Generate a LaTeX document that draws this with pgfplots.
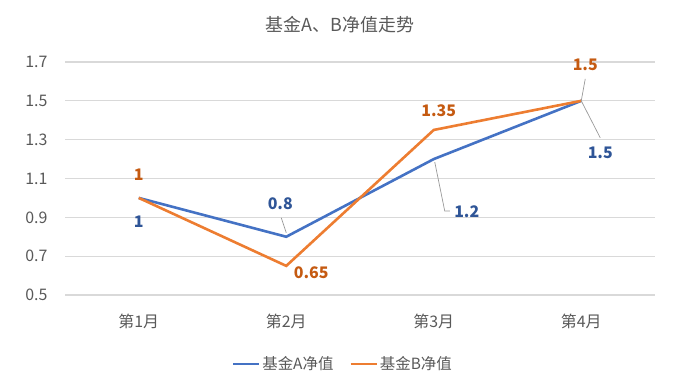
\documentclass[border=0pt]{standalone}
\usepackage{fontspec}
\setmainfont{Noto Sans CJK SC}
\usepackage{pgfplots}
\pgfplotsset{compat=1.18}
\definecolor{lineA}{HTML}{4472C4}
\definecolor{lineB}{HTML}{ED7D31}
\definecolor{labA}{HTML}{2F5597}
\definecolor{labB}{HTML}{C55A11}
\definecolor{txt}{HTML}{595959}
\definecolor{gridc}{HTML}{D9D9D9}
\begin{document}
\begin{tikzpicture}[x=1bp,y=1bp]
\path[use as bounding box] (0,0) rectangle (687,381);
\begin{axis}[
  at={(65bp,86bp)}, anchor=south west,
  scale only axis, width=590bp, height=233bp,
  xmin=-0.5, xmax=3.5, ymin=0.5, ymax=1.7,
  xtick={0,1,2,3}, xticklabels={第1月,第2月,第3月,第4月},
  ytick={0.5,0.7,0.9,1.1,1.3,1.5,1.7},
  yticklabel style={/pgf/number format/fixed,/pgf/number format/precision=1},
  /pgf/number format/assume math mode=true,
  axis line style={draw=none},
  major tick length=0pt,
  xmajorgrids=false, ymajorgrids=true, grid style={draw=gridc, line width=1.2bp},
  ticklabel style={font=\fontsize{16}{18}\selectfont, text=txt},
  xticklabel style={yshift=-16bp},
  yticklabel style={xshift=-14bp},
  title={基金A、B净值走势}, title style={font=\fontsize{18}{20}\selectfont, text=txt, at={(0.466,1)}, yshift=20bp},
  legend columns=2,
  legend style={at={(0.471,-0.295)}, anchor=center, draw=none, fill=none, font=\fontsize{15.5}{17}\selectfont, text=txt, /tikz/every even column/.append style={column sep=14bp}},
  legend image code/.code={\draw[#1, line width=2.4bp] (0bp,0bp) -- (26bp,0bp);},
  clip=false,
]
\addplot[lineA, line width=2.6bp, mark=none] coordinates {(0,1) (1,0.8) (2,1.2) (3,1.5)};
\addlegendentry{基金A净值}
\addplot[lineB, line width=2.6bp, mark=none] coordinates {(0,1) (1,0.65) (2,1.35) (3,1.5)};
\addlegendentry{基金B净值}
% leader lines
\draw[gray!80, line width=0.7bp] ([yshift=4bp]axis cs:1,0.8) -- ++(-5bp,15bp);
\draw[gray!80, line width=0.7bp] ([xshift=1bp,yshift=-3bp]axis cs:2,1.2) -- ++(10bp,-49bp) -- ++(5bp,0bp);
\draw[gray!80, line width=0.7bp] (axis cs:3,1.5) -- ++(19bp,-37bp);
\draw[gray!80, line width=0.7bp] (axis cs:3,1.5) -- ++(4bp,22bp);
% data labels
\tikzset{lab/.style={font=\fontsize{16}{18}\selectfont\bfseries}}
\node[lab, text=labB] at ([yshift=23bp]axis cs:0,1) {1};
\node[lab, text=labA] at ([yshift=-24bp]axis cs:0,1) {1};
\node[lab, text=labA] at ([xshift=-6bp,yshift=33bp]axis cs:1,0.8) {0.8};
\node[lab, text=labB] at ([xshift=25bp,yshift=-7bp]axis cs:1,0.65) {0.65};
\node[lab, text=labB] at ([xshift=5bp,yshift=19bp]axis cs:2,1.35) {1.35};
\node[lab, text=labA] at ([xshift=33bp,yshift=-53bp]axis cs:2,1.2) {1.2};
\node[lab, text=labB] at ([xshift=4bp,yshift=36bp]axis cs:3,1.5) {1.5};
\node[lab, text=labA] at ([xshift=19bp,yshift=-52bp]axis cs:3,1.5) {1.5};
\end{axis}
\end{tikzpicture}
\end{document}
